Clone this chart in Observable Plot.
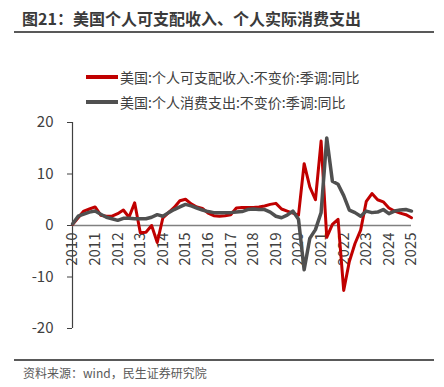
<!DOCTYPE html>
<html><head><meta charset="utf-8">
<script src="https://cdn.jsdelivr.net/npm/d3@7"></script>
<script src="https://cdn.jsdelivr.net/npm/@observablehq/plot@0.6"></script>
<style>
body{margin:0;background:#fff;font-family:"Noto Sans CJK SC","Noto Sans",sans-serif;}
#wrap{position:relative;width:444px;height:387px;overflow:hidden;}
#title{position:absolute;left:22px;top:6px;font-size:16px;font-weight:bold;color:#3a3a3a;white-space:nowrap;line-height:24px;}
.hr{position:absolute;left:14px;width:420px;height:2px;background:#595959;}
.leg{position:absolute;left:86px;font-size:14px;color:#404040;white-space:nowrap;line-height:20px;display:flex;align-items:center;}
.sw{display:inline-block;width:32px;height:4px;margin-right:2px;}
#src{position:absolute;left:23px;top:364px;font-size:12px;color:#595959;white-space:nowrap;line-height:18px;}
#chart{position:absolute;left:0;top:0;}
</style></head>
<body><div id="wrap">
<div id="chart"></div>
<div id="title">图21：美国个人可支配收入、个人实际消费支出</div>
<div class="hr" style="top:31px"></div>
<div class="leg" style="top:67px"><span class="sw" style="background:#C00000"></span>美国:个人可支配收入:不变价:季调:同比</div>
<div class="leg" style="top:92px"><span class="sw" style="background:#505050"></span>美国:个人消费支出:不变价:季调:同比</div>
<div class="hr" style="top:359px"></div>
<div id="src">资料来源：wind，民生证券研究院</div>
</div>
<script>
const quarters = [
"2010Q1","2010Q2","2010Q3","2010Q4","2011Q1","2011Q2","2011Q3","2011Q4",
"2012Q1","2012Q2","2012Q3","2012Q4","2013Q1","2013Q2","2013Q3","2013Q4",
"2014Q1","2014Q2","2014Q3","2014Q4","2015Q1","2015Q2","2015Q3","2015Q4",
"2016Q1","2016Q2","2016Q3","2016Q4","2017Q1","2017Q2","2017Q3","2017Q4",
"2018Q1","2018Q2","2018Q3","2018Q4","2019Q1","2019Q2","2019Q3","2019Q4",
"2020Q1","2020Q2","2020Q3","2020Q4","2021Q1","2021Q2","2021Q3","2021Q4",
"2022Q1","2022Q2","2022Q3","2022Q4","2023Q1","2023Q2","2023Q3","2023Q4",
"2024Q1","2024Q2","2024Q3","2024Q4","2025Q1"];
const incomeYoY = [
0.2,1.5,2.8,3.2, 3.6,2.0,1.8,1.8,
2.3,3.0,1.6,4.4, -1.4,-1.3,0.0,-3.3,
1.5,2.5,3.5,4.8, 5.1,4.2,3.6,3.3,
2.4,1.9,1.8,1.9, 2.1,3.4,3.5,3.5,
3.5,3.6,3.8,4.1, 4.3,3.2,2.8,2.4,
2.0,12.0,7.5,5.0, 16.4,-2.3,0.2,1.2,
-12.6,-7.0,-3.5,-0.9, 4.7,6.2,5.0,4.6,
3.4,2.8,2.4,2.1, 1.5];
const consumptionYoY = [
0.3,1.8,2.2,2.6, 2.8,2.2,1.6,1.3,
1.0,1.4,1.4,1.3, 1.3,1.3,1.6,2.1,
1.8,2.5,3.1,3.6, 4.1,3.8,3.4,3.0,
2.7,2.5,2.5,2.5, 2.5,2.6,2.7,3.1,
3.2,3.1,3.1,2.6, 1.8,1.5,2.0,2.8,
1.2,-8.6,-2.5,-0.8, 2.5,17.0,8.6,8.0,
5.8,3.0,2.5,1.8, 2.8,2.5,2.6,3.1,
2.3,2.8,3.0,3.1, 2.8];
const yearLabels = [2010,2011,2012,2013,2014,2015,2016,2017,2018,2019,2020,2021,2022,2023,2024,2025];
const yTicks = [-20,-10,0,10,20];
const xDomain = [2010, 2025];
const yDomain = [-20, 20];

const toT = q => +q.slice(0,4) + (+q.slice(5) - 1) / 4;
const income = quarters.map((q,i) => ({t: toT(q), v: incomeYoY[i]}));
const cons = quarters.map((q,i) => ({t: toT(q), v: consumptionYoY[i]}));

const chart = Plot.plot({
  width: 444, height: 360,
  marginLeft: 72, marginRight: 33, marginTop: 122, marginBottom: 32,
  style: {fontFamily: '"Noto Sans CJK SC","Noto Sans",sans-serif', fontSize: "15px", color: "#404040", background: "transparent"},
  x: {domain: xDomain, axis: null},
  y: {domain: yDomain, ticks: yTicks, tickSize: 5, tickPadding: 14, label: null, tickFormat: d => String(d)},
  marks: [
    Plot.ruleX([xDomain[0]], {y1: yDomain[0], y2: yDomain[1], stroke: "#404040", strokeWidth: 1.2}),
    Plot.ruleY([0], {stroke: "#808080", strokeWidth: 1.5}),
    Plot.text(yearLabels, {x: d => d, y: 0, text: d => String(d), rotate: -90, textAnchor: "end", dy: 7, fontSize: 15, fill: "#404040"}),
    Plot.line(income, {x: "t", y: "v", stroke: "#C00000", strokeWidth: 3}),
    Plot.line(cons, {x: "t", y: "v", stroke: "#505050", strokeWidth: 3.5})
  ]
});
document.getElementById("chart").appendChild(chart);
</script>
</body></html>
